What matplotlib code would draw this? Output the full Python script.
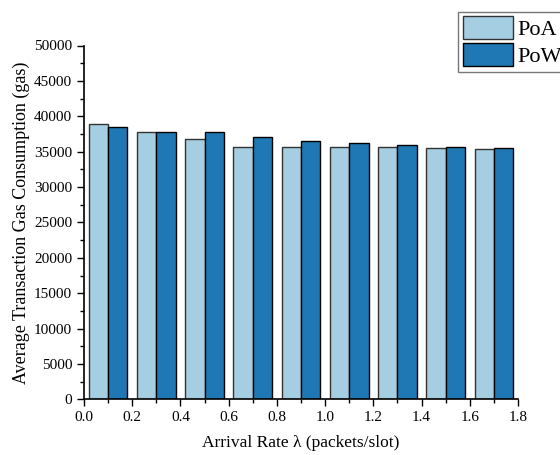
import numpy as np
import matplotlib
matplotlib.use('Agg')
import matplotlib.pyplot as plt
from matplotlib.ticker import MultipleLocator, FormatStrFormatter

plt.rcParams['font.family'] = ['Liberation Serif', 'DejaVu Serif']

# arrival rate (group centres) and gas consumption per consensus
rates = [0.1, 0.3, 0.5, 0.7, 0.9, 1.1, 1.3, 1.5, 1.7]
poa = [38900, 37850, 36750, 35680, 35650, 35680, 35600, 35550, 35450]
pow_ = [38550, 37800, 37780, 37050, 36550, 36220, 35920, 35650, 35550]

w = 0.08
x = np.array(rates)

fig = plt.figure(figsize=(5.6, 4.55), dpi=100)
ax = fig.add_axes([0.15, 0.122, 0.775, 0.778])

ax.bar(x - w/2, poa, width=w, color='#a6cee3', edgecolor='#333333', lw=1, label='PoA')
ax.bar(x + w/2, pow_, width=w, color='#1f78b4', edgecolor='black', lw=1, label='PoW')

ax.set_xlim(0, 1.8)
ax.set_ylim(0, 50000)
ax.xaxis.set_major_locator(MultipleLocator(0.2))
ax.xaxis.set_minor_locator(MultipleLocator(0.1))
ax.yaxis.set_major_locator(MultipleLocator(5000))
ax.yaxis.set_minor_locator(MultipleLocator(2500))
ax.xaxis.set_major_formatter(FormatStrFormatter('%.1f'))
ax.tick_params(which='major', direction='out', length=5, width=1, labelsize=11)
ax.tick_params(which='minor', direction='out', length=3, width=1)

ax.spines['top'].set_visible(False)
ax.spines['right'].set_visible(False)
ax.spines['left'].set_linewidth(1.2)
ax.spines['bottom'].set_linewidth(1.2)

ax.set_xlabel('Arrival Rate λ (packets/slot)', fontsize=12.5, labelpad=8)
ax.set_ylabel('Average Transaction Gas Consumption (gas)', fontsize=13, labelpad=3)

leg = fig.legend(loc='upper left', bbox_to_anchor=(0.818, 0.974), fontsize=16,
                 handlelength=2.25, handleheight=1.18, handletextpad=0.2,
                 labelspacing=0.15, borderpad=0.2, borderaxespad=0,
                 fancybox=False, frameon=True)
leg.get_frame().set_edgecolor('#555555')
leg.get_frame().set_linewidth(1)

fig.savefig('out.png', dpi=100)
